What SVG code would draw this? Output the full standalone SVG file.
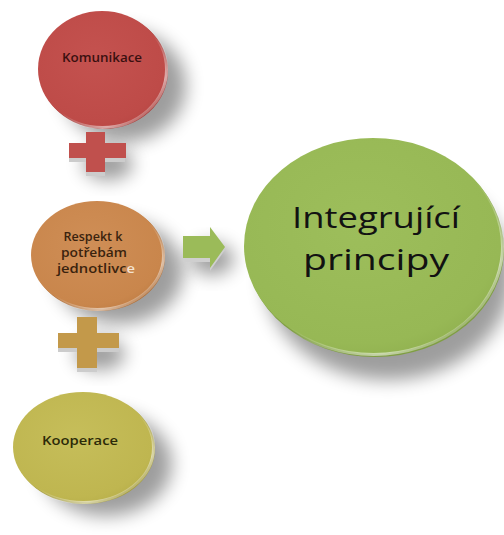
<svg xmlns="http://www.w3.org/2000/svg" width="504" height="535" viewBox="0 0 504 535">
<defs>
<filter id="blur" x="-50%" y="-50%" width="200%" height="200%"><feGaussianBlur stdDeviation="9"/></filter>
<radialGradient id="gRed" cx="0.45" cy="0.4" r="0.65"><stop offset="0" stop-color="#C4524F"/><stop offset="0.85" stop-color="#BE4B48"/><stop offset="1" stop-color="#B84744"/></radialGradient>
<radialGradient id="gOra" cx="0.45" cy="0.4" r="0.65"><stop offset="0" stop-color="#CF8E56"/><stop offset="0.85" stop-color="#C9864C"/><stop offset="1" stop-color="#C07E45"/></radialGradient>
<radialGradient id="gYel" cx="0.45" cy="0.4" r="0.65"><stop offset="0" stop-color="#C6BE5A"/><stop offset="0.85" stop-color="#BFB650"/><stop offset="1" stop-color="#B8AF4A"/></radialGradient>
<radialGradient id="gGrn" cx="0.45" cy="0.4" r="0.65"><stop offset="0" stop-color="#9DBE5B"/><stop offset="0.85" stop-color="#97B855"/><stop offset="1" stop-color="#90B04F"/></radialGradient>
<linearGradient id="hl" x1="0.2" y1="0.2" x2="0.85" y2="0.9"><stop offset="0.5" stop-color="#fff" stop-opacity="0"/><stop offset="0.85" stop-color="#fff" stop-opacity="0.55"/><stop offset="1" stop-color="#fff" stop-opacity="0.2"/></linearGradient>
<style>
.sh{fill:#000;opacity:.38;filter:url(#blur)}
.hl{fill:none;stroke:url(#hl);stroke-width:3}
.t{font-family:"Open Sans","Noto Sans","Liberation Sans",sans-serif;text-anchor:middle}
.s{font-size:12px;font-weight:600}
.b{font-size:30px;font-weight:400;fill:#121212}
</style>
</defs>
<rect width="504" height="535" fill="#fff"/>
<!-- shadows -->
<ellipse class="sh" cx="124" cy="86" rx="62" ry="56"/>
<ellipse class="sh" cx="119" cy="272" rx="64" ry="52"/>
<ellipse class="sh" cx="106" cy="464" rx="66" ry="52"/>
<ellipse class="sh" cx="388" cy="275" rx="124" ry="105"/>
<ellipse class="sh" cx="108" cy="164" rx="25" ry="16" opacity=".22"/>
<ellipse class="sh" cx="100" cy="354" rx="25" ry="16" opacity=".22"/>
<ellipse class="sh" cx="212" cy="259" rx="22" ry="16" opacity=".22"/>
<g id="connectors">
<g id="plus1">
<path d="M86 134h19v11h20v15h-20v14h-19v-14h-17v-15h17z" fill="#ccc" transform="translate(0,2)"/>
<path d="M86 132h19v11h21v15h-21v14h-19v-14h-17v-15h17z" fill="#C0504D"/>
</g>
<g id="plus2">
<path d="M77 319h20v16h22v15h-22v20h-20v-20h-19v-15h19z" fill="#ccc" transform="translate(0,2)"/>
<path d="M77 317h20v16h22v15h-22v20h-20v-20h-19v-15h19z" fill="#C3994A"/>
</g>
<g id="arrow">
<path d="M183 238h27v-9l15 19l-15 21v-9h-27z" fill="#cfcfcf" transform="translate(0,2)"/>
<path d="M183 236h27v-9l15 20l-15 21v-10h-27z" fill="#9BBB59"/>
</g>
</g>
<g id="node-komunikace">
<ellipse cx="104" cy="71" rx="64" ry="58" fill="#A9403D"/>
<ellipse cx="102" cy="69" rx="64" ry="58" fill="url(#gRed)"/>
<ellipse cx="102.5" cy="69.5" rx="64" ry="58" class="hl"/>
<text class="t s" x="102" y="62" fill="#3a1010" textLength="80" lengthAdjust="spacingAndGlyphs">Komunikace</text>
</g>
<g id="node-respekt">
<ellipse cx="99" cy="257" rx="66" ry="54" fill="#B06F38"/>
<ellipse cx="97" cy="255" rx="66" ry="54" fill="url(#gOra)"/>
<ellipse cx="97.5" cy="255.5" rx="66" ry="54" class="hl"/>
<text class="t s" fill="#3a230e"><tspan x="93" y="241" textLength="59" lengthAdjust="spacingAndGlyphs">Respekt k</tspan><tspan x="94" y="257" textLength="66" lengthAdjust="spacingAndGlyphs">potřebám</tspan><tspan x="96" y="273" textLength="78" lengthAdjust="spacingAndGlyphs">jednotlivc<tspan fill="#f3e3d3">e</tspan></tspan></text>
</g>
<g id="node-kooperace">
<ellipse cx="85" cy="449" rx="70" ry="55" fill="#A59D3C"/>
<ellipse cx="83" cy="447" rx="70" ry="55" fill="url(#gYel)"/>
<ellipse cx="83.5" cy="447.5" rx="70" ry="55" class="hl"/>
<text class="t s" x="80" y="445" fill="#2c2a08" textLength="76" lengthAdjust="spacingAndGlyphs">Kooperace</text>
</g>
<g id="node-integrujici">
<ellipse cx="375" cy="249" rx="129" ry="108" fill="#7F9E42"/>
<ellipse cx="373" cy="246" rx="129" ry="108" fill="url(#gGrn)"/>
<ellipse cx="373.5" cy="246.5" rx="129" ry="108" class="hl"/>
<text class="t b" x="376" y="228" textLength="168" lengthAdjust="spacingAndGlyphs">Integrující</text>
<text class="t b" x="376" y="270" textLength="146" lengthAdjust="spacingAndGlyphs">principy</text>
</g>
</svg>
